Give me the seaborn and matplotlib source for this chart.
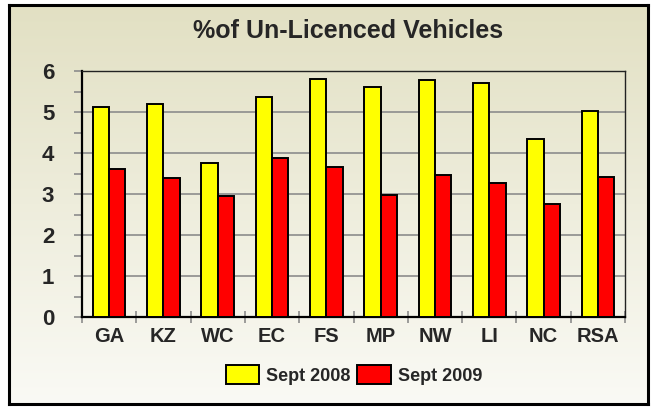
import numpy as np
import pandas as pd
import seaborn as sns
import matplotlib.pyplot as plt
from matplotlib.patches import Rectangle
from matplotlib.colors import LinearSegmentedColormap


regions = ['GA', 'KZ', 'WC', 'EC', 'FS', 'MP', 'NW', 'LI', 'NC', 'RSA']
sept_2008 = [5.11, 5.20, 3.76, 5.37, 5.80, 5.62, 5.77, 5.71, 4.35, 5.03]
sept_2009 = [3.60, 3.38, 2.96, 3.88, 3.65, 2.98, 3.46, 3.27, 2.75, 3.41]
series_names = ['Sept 2008', 'Sept 2009']
title_text = '%of Un-Licenced Vehicles'

df = pd.DataFrame({
    'region': regions * 2,
    'value': sept_2008 + sept_2009,
    'serie': [series_names[0]] * len(regions) + [series_names[1]] * len(regions),
})

sns.set_theme(style='white')
plt.rcParams['font.family'] = ['Liberation Sans', 'DejaVu Sans']

W, H = 657, 407
fig = plt.figure(figsize=(W / 100, H / 100), dpi=100)
fig.patch.set_facecolor('white')

# fondo con degradado dentro del marco
x0, y0, x1, y1 = 9, 5, 648, 404
bg = fig.add_axes([x0 / W, 1 - y1 / H, (x1 - x0) / W, (y1 - y0) / H], zorder=0)
cmap = LinearSegmentedColormap.from_list('bg', ['#E2E0C3', '#FAFAF5'])
grad = np.linspace(0, 1, 256).reshape(-1, 1)
bg.imshow(grad, aspect='auto', cmap=cmap, extent=[0, 1, 0, 1])
bg.set_xticks([])
bg.set_yticks([])
for s in bg.spines.values():
    s.set_color('black')
    s.set_linewidth(2.2)

ax = fig.add_axes([82 / W, 1 - 317 / H, (625 - 82) / W, (317 - 71) / H], zorder=1)
ax.set_facecolor('none')

sns.barplot(data=df, x='region', y='value', hue='serie', order=regions,
            palette=['#FFFF00', '#FF0000'], width=0.6, gap=0,
            edgecolor='black', linewidth=1.4, saturation=1, ax=ax, zorder=3)

ax.set_ylim(0, 6)
ax.set_xlim(-0.5, len(regions) - 0.5)
ax.set_yticks(range(0, 7))
ax.set_yticks(np.arange(0.5, 6, 1), minor=True)
ax.set_xticks(np.arange(-0.5, len(regions), 1), minor=True)
ax.grid(axis='y', which='major', color='#8C8C8C', linewidth=1.2, zorder=0)
ax.set_axisbelow(True)

ax.tick_params(axis='y', which='both', left=True, length=6, width=1.2,
               color='#8C8C8C', direction='out', pad=14)
ax.tick_params(axis='x', which='major', bottom=False, pad=1)
ax.tick_params(axis='x', which='minor', bottom=True, length=8, width=1.2,
               color='#8C8C8C', direction='inout')
ax.set_yticklabels([str(v) for v in range(0, 7)], fontsize=16, fontweight='bold')
ax.set_xticklabels(regions, fontsize=14.5, fontweight='bold')
ax.set_xlabel('')
ax.set_ylabel('')

for side in ['left', 'bottom']:
    ax.spines[side].set_color('black')
    ax.spines[side].set_linewidth(1.6)
for side in ['top', 'right']:
    ax.spines[side].set_visible(True)
    ax.spines[side].set_color('#222222')
    ax.spines[side].set_linewidth(1.0)

fig.text(348 / W, 1 - 31 / H, title_text, ha='center', va='center',
         fontsize=18, fontweight='bold')

ax.legend_.remove()
handles = [Rectangle((0, 0), 1, 1, facecolor=c, edgecolor='black', linewidth=1.4)
           for c in ['#FFFF00', '#FF0000']]
fig.legend(handles, series_names, loc='center', bbox_to_anchor=(354 / W, 1 - 375 / H),
           ncol=2, frameon=False, handlelength=1.85, handleheight=1.2,
           handletextpad=0.4, columnspacing=0.35, borderaxespad=0,
           prop={'size': 13, 'weight': 'bold'})

plt.savefig('out.png', dpi=100)
